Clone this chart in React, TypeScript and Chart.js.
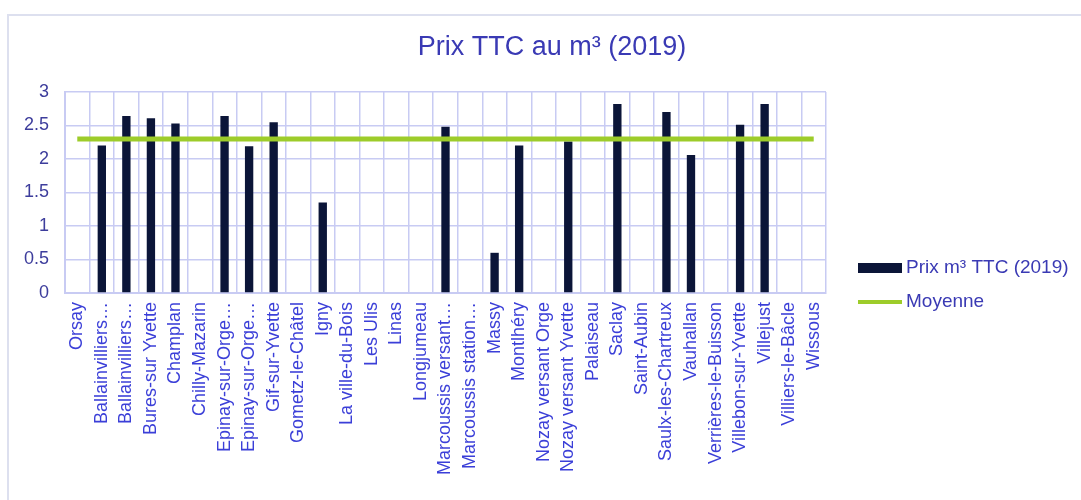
import React, { useEffect, useRef } from "react";
import { Chart, registerables } from "chart.js";

Chart.register(...registerables);

const TITLE = "Prix TTC au m³ (2019)";

const communes: string[] = [
  "Orsay",
  "Ballainvilliers…",
  "Ballainvilliers…",
  "Bures-sur Yvette",
  "Champlan",
  "Chilly-Mazarin",
  "Epinay-sur-Orge…",
  "Epinay-sur-Orge…",
  "Gif-sur-Yvette",
  "Gometz-le-Châtel",
  "Igny",
  "La ville-du-Bois",
  "Les Ulis",
  "Linas",
  "Longjumeau",
  "Marcoussis versant…",
  "Marcoussis station…",
  "Massy",
  "Montlhéry",
  "Nozay versant Orge",
  "Nozay versant Yvette",
  "Palaiseau",
  "Saclay",
  "Saint-Aubin",
  "Saulx-les-Chartreux",
  "Vauhallan",
  "Verrières-le-Buisson",
  "Villebon-sur-Yvette",
  "Villejust",
  "Villiers-le-Bâcle",
  "Wissous",
];

const prixTTC: (number | null)[] = [
  null, 2.2, 2.64, 2.61, 2.53, null, 2.64, 2.19, 2.55, null,
  1.35, null, null, null, null, 2.48, null, 0.6, 2.2, null,
  2.26, null, 2.82, null, 2.7, 2.06, null, 2.51, 2.82, null,
  null,
];

const moyenne: number[] = [
  2.3, 2.3, 2.3, 2.3, 2.3, 2.3, 2.3, 2.3, 2.3, 2.3,
  2.3, 2.3, 2.3, 2.3, 2.3, 2.3, 2.3, 2.3, 2.3, 2.3,
  2.3, 2.3, 2.3, 2.3, 2.3, 2.3, 2.3, 2.3, 2.3, 2.3,
  2.3,
];

const yTicks: number[] = [0, 0.5, 1, 1.5, 2, 2.5, 3];

const SERIES_BAR = "Prix m³ TTC (2019)";
const SERIES_LINE = "Moyenne";

const BAR_COLOR = "#0b1538";
const LINE_COLOR = "#9dcc2a";
const GRID_COLOR = "#c8cbf3";
const FONT = "'Liberation Sans', Arial, sans-serif";

const overlayPlugin = {
  id: "overlay",
  afterDraw(chart: any) {
    const { ctx, chartArea } = chart;
    ctx.save();
    // title
    ctx.fillStyle = "#3a3ab4";
    ctx.font = `27px ${FONT}`;
    ctx.textAlign = "center";
    ctx.textBaseline = "middle";
    ctx.fillText(TITLE, 552, 48);
    // legend
    const lx = chartArea.right + 32;
    const y1 = 268;
    const y2 = 302;
    ctx.fillStyle = BAR_COLOR;
    ctx.fillRect(lx, y1 - 5, 44, 10);
    ctx.strokeStyle = LINE_COLOR;
    ctx.lineWidth = 4;
    ctx.beginPath();
    ctx.moveTo(lx, y2);
    ctx.lineTo(lx + 44, y2);
    ctx.stroke();
    ctx.fillStyle = "#3a3ab4";
    ctx.font = `19px ${FONT}`;
    ctx.textAlign = "left";
    ctx.textBaseline = "middle";
    ctx.fillText(SERIES_BAR, lx + 48, y1);
    ctx.fillText(SERIES_LINE, lx + 48, y2);
    ctx.restore();
  },
};

export default function App() {
  const ref = useRef<HTMLCanvasElement | null>(null);

  useEffect(() => {
    if (!ref.current) return;
    const chart = new Chart(ref.current, {
      type: "bar",
      data: {
        labels: communes,
        datasets: [
          {
            type: "line",
            label: SERIES_LINE,
            data: moyenne,
            borderColor: LINE_COLOR,
            backgroundColor: LINE_COLOR,
            borderWidth: 5,
            pointRadius: 0,
            fill: false,
            order: 0,
          } as any,
          {
            type: "bar",
            label: SERIES_BAR,
            data: prixTTC,
            backgroundColor: BAR_COLOR,
            barPercentage: 0.34,
            categoryPercentage: 1,
            order: 1,
          } as any,
        ],
      },
      options: {
        animation: false,
        responsive: false,
        devicePixelRatio: 1,
        layout: { padding: { left: 23, right: 255, top: 92, bottom: 0 } },
        plugins: {
          legend: { display: false },
          title: { display: false },
          tooltip: { enabled: false },
        },
        scales: {
          x: {
            offset: true,
            grid: {
              color: GRID_COLOR,
              lineWidth: 1.5,
              drawTicks: false,
              offset: true,
            },
            border: { color: GRID_COLOR, width: 2 },
            ticks: {
              autoSkip: false,
              minRotation: 90,
              maxRotation: 90,
              padding: 9,
              color: "#3b3fd8",
              font: { family: FONT, size: 18 },
            },
            afterFit: (scale: any) => {
              scale.height = 207;
            },
          },
          y: {
            min: 0,
            max: 3,
            afterBuildTicks: (scale: any) => {
              scale.ticks = yTicks.map((v) => ({ value: v }));
            },
            grid: { color: GRID_COLOR, lineWidth: 1.5, drawTicks: false },
            border: { color: GRID_COLOR, width: 2 },
            ticks: {
              padding: 16,
              color: "#3d3d9c",
              font: { family: FONT, size: 18 },
              callback: (v: any) => String(Number(v)),
            },
            afterFit: (scale: any) => {
              scale.width = 42;
            },
          },
        },
      },
      plugins: [overlayPlugin],
    });
    return () => chart.destroy();
  }, []);

  return (
    <div
      style={{
        position: "absolute",
        left: 0,
        top: 0,
        width: 1081,
        height: 500,
        background: "#ffffff",
        overflow: "hidden",
      }}
    >
      <div
        style={{
          position: "absolute",
          left: 7,
          top: 14,
          width: 1100,
          height: 520,
          borderTop: "2px solid #dde0ef",
          borderLeft: "2px solid #dde0ef",
        }}
      />
      <canvas
        ref={ref}
        width={1081}
        height={500}
        style={{ position: "absolute", left: 0, top: 0, width: 1081, height: 500 }}
      />
    </div>
  );
}
